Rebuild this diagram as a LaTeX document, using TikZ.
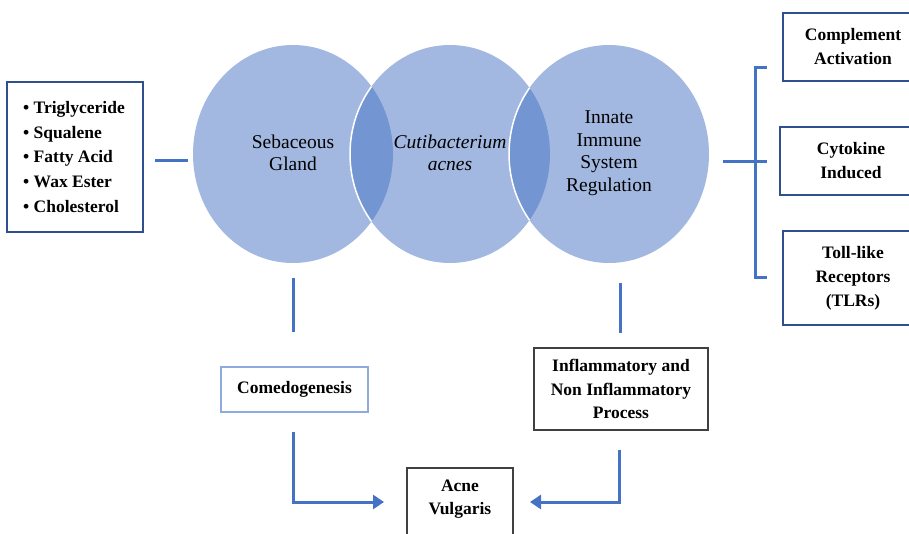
\documentclass[tikz,border=0pt]{standalone}
\usepackage{fontspec}
\setmainfont{Liberation Serif}
\usetikzlibrary{arrows.meta}
\definecolor{cbase}{HTML}{A2B8E0}
\definecolor{cover}{HTML}{7396D2}
\definecolor{lblue}{HTML}{4472C4}
\definecolor{dblue}{HTML}{2F4F8F}
\definecolor{pblue}{HTML}{8FAADC}
\definecolor{dgray}{HTML}{404040}
\tikzset{
  conn/.style={draw=lblue, line width=3pt},
  arr/.style={conn, -{Triangle[length=11pt,width=14pt]}},
  lbl/.style={font=\fontsize{19.5}{22.5}\selectfont, align=center},
  bbox/.style={draw=dblue, line width=2pt, font=\fontsize{17.5}{24}\selectfont\bfseries, align=center, inner sep=0pt},
  gbox/.style={draw=dgray, line width=1.5pt, font=\fontsize{17.5}{23.5}\selectfont\bfseries, align=center, inner sep=0pt},
}
\begin{document}
\begin{tikzpicture}[x=1pt,y=-1pt]
\useasboundingbox (0,0) rectangle (909,533);
\clip (0,0) rectangle (909,533);
% circles
\fill[cbase] (293,154) ellipse [x radius=100, y radius=109];
\fill[cbase] (450,154) ellipse [x radius=100, y radius=109];
\fill[cbase] (609,154) ellipse [x radius=100, y radius=109];
\begin{scope}
  \clip (293,154) ellipse [x radius=100, y radius=109];
  \fill[cover] (450,154) ellipse [x radius=100, y radius=109];
  \draw[white, line width=1.5pt] (450,154) ellipse [x radius=100, y radius=109];
\end{scope}
\begin{scope}
  \clip (450,154) ellipse [x radius=100, y radius=109];
  \fill[cover] (609,154) ellipse [x radius=100, y radius=109];
  \draw[white, line width=1.5pt] (609,154) ellipse [x radius=100, y radius=109];
\end{scope}
\coordinate (cL) at (293,154);
\coordinate (cM) at (450,154);
\coordinate (cR) at (609,154);
\node[lbl] (seb) at (293,153) {Sebaceous\\Gland};
\node[lbl, font=\fontsize{19.5}{22.5}\selectfont\itshape] (cut) at (450,153) {Cutibacterium\\acnes};
\node[lbl] (inn) at (609,153) {Innate\\Immune\\System\\Regulation};
% left list box
\node[draw=dblue, line width=2pt, minimum width=136pt, minimum height=150pt, inner sep=0pt] (list) at (75,157) {};
\node[anchor=center, align=left, font=\fontsize{17.5}{24.8}\selectfont\bfseries] (listtxt) at (74,157)
  {\textbullet\ Triglyceride\\\textbullet\ Squalene\\\textbullet\ Fatty Acid\\\textbullet\ Wax Ester\\\textbullet\ Cholesterol};
\coordinate (l1) at (155,160);
\coordinate (l2) at (188,160);
\draw[conn] (l1) -- (l2);
% right boxes
\node[bbox, minimum width=140pt, minimum height=68pt] (comp) at (853,47) {Complement\\Activation};
\node[bbox, minimum width=142pt, minimum height=68pt] (cyto) at (851,161) {Cytokine\\Induced};
\node[bbox, minimum width=140pt, minimum height=94pt] (toll) at (853,278) {Toll-like\\Receptors\\(TLRs)};
\coordinate (r0) at (723,161);
\coordinate (r1) at (767,161);
\coordinate (rt) at (767,67);
\coordinate (rb) at (767,277);
\draw[conn] (r0) -- (r1);
\draw[conn] (rt) -- (755,67) -- (755,277) -- (rb);
% bottom
\node[draw=pblue, line width=1.3pt, minimum width=147pt, minimum height=45pt, inner sep=0pt,
      font=\fontsize{17.5}{23}\selectfont\bfseries] (come) at (294.5,389.5) {Comedogenesis};
\node[gbox, minimum width=174pt, minimum height=82pt] (infl) at (621,389) {Inflammatory and\\Non Inflammatory\\Process};
\node[gbox, minimum width=106pt, minimum height=90pt, anchor=north] (acne) at (460,467) {};
\node[font=\fontsize{17.5}{23}\selectfont\bfseries, align=center] (acnetxt) at (460,499) {Acne\\Vulgaris};
\coordinate (v1a) at (293,278);
\coordinate (v1b) at (293,332);
\coordinate (v2a) at (620,283);
\coordinate (v2b) at (620,333);
\draw[conn] (v1a) -- (v1b);
\draw[conn] (v2a) -- (v2b);
\coordinate (a1) at (293,432);
\coordinate (a2) at (619,450);
\draw[arr] (a1) |- (384,502);
\draw[arr] (a2) |- (530,502);
\end{tikzpicture}
\end{document}
